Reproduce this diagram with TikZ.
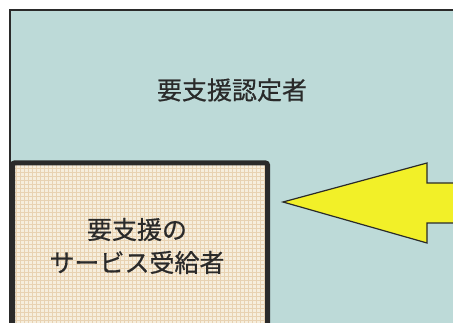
\documentclass[tikz,border=0pt]{standalone}
\usepackage{fontspec}
\newfontfamily\cjk[FakeBold=0.6]{Noto Sans CJK JP}
\definecolor{outerfill}{HTML}{BDDAD8}
\definecolor{innerfill}{HTML}{F6EEDD}
\definecolor{gridline}{HTML}{E8D2B2}
\definecolor{arrowfill}{HTML}{F2F028}
\definecolor{ink}{HTML}{2A2A2A}
\tikzset{
  outerbox/.style={fill=outerfill, draw=ink, line width=1.5pt},
  bigarrow/.style={fill=arrowfill, draw=ink, line width=1.2pt, line join=miter},
  label/.style={font=\cjk\fontsize{25}{33}\selectfont, text=ink, align=center, inner sep=0pt}
}
\begin{document}
\begin{tikzpicture}[x=1pt,y=-1pt]
\useasboundingbox (0,0) rectangle (453,323);
\fill[white] (0,0) rectangle (453,323);
% outer region
\draw[outerbox] (470,10) -- (10,10) -- (10,340) -- (470,340);
\node[label] (outer) at (232,90) {要支援認定者};
% inner box
\begin{scope}
  \clip (12.5,163) rectangle (267.5,340);
  \fill[innerfill] (12.5,163) rectangle (267.5,340);
  \draw[gridline, line width=0.45pt, step=4pt] (12,160) grid (268,340);
\end{scope}
\draw[ink, line width=5pt, rounded corners=2pt] (12.5,345) -- (12.5,163) -- (267.5,163) -- (267.5,345);
\node[label] (inner) at (137,246) {要支援の\\サービス受給者};
% arrow
\draw[bigarrow] (470,183) -- (427,183) -- (427,163) -- (283,202) -- (427,243) -- (427,223) -- (470,223);
\end{tikzpicture}
\end{document}
